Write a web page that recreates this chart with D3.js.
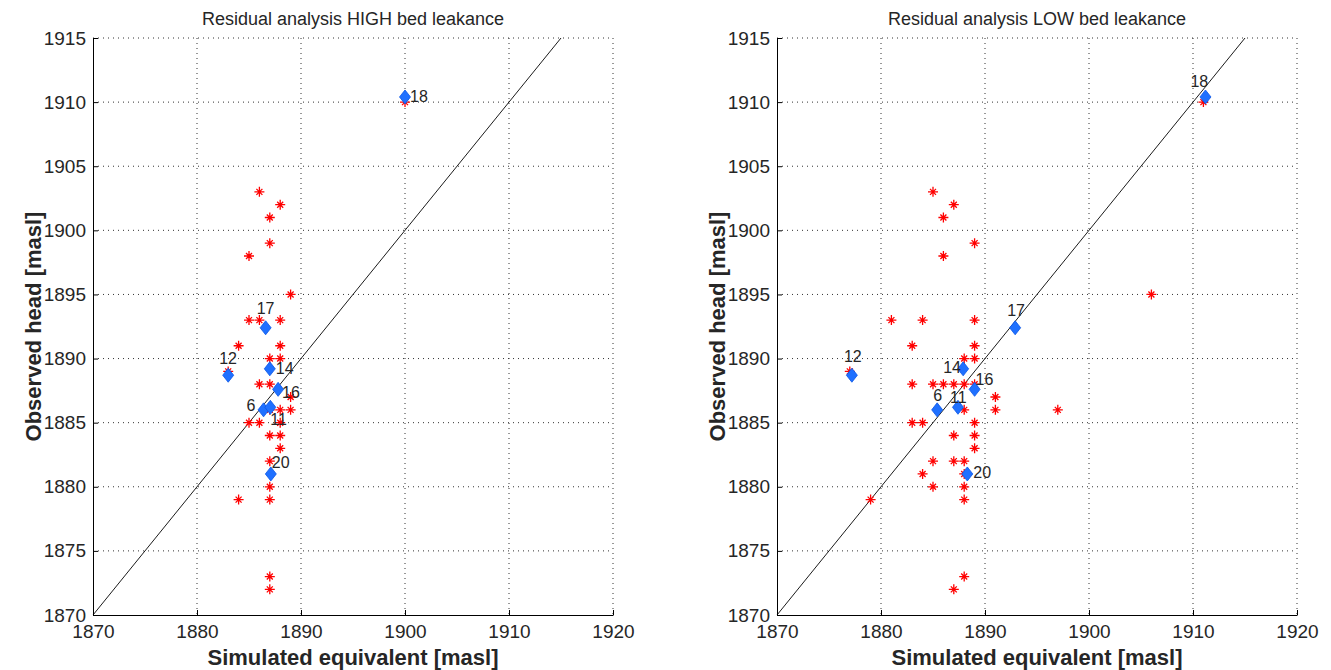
<!DOCTYPE html>
<html>
<head>
<meta charset="utf-8">
<script src="https://cdn.jsdelivr.net/npm/d3@7"></script>
<style>
  body { margin: 0; background: #fff; }
  text { font-family: "Liberation Sans", Arial, sans-serif; fill: #262626; }
</style>
</head>
<body>
<svg id="chart" width="1331" height="670"></svg>
<script>
// wells with a measured head (blue diamonds)
var wells = ["6", "11", "12", "14", "16", "17", "18", "20"];
var wellObserved = [1886.0, 1886.2, 1888.7, 1889.2, 1887.6, 1892.4, 1910.4, 1881.0];
var wellSimHigh  = [1886.4, 1887.05, 1883.0, 1887.0, 1887.8, 1886.6, 1900.0, 1887.1];
var wellSimLow   = [1885.4, 1887.4, 1877.2, 1887.9, 1889.0, 1892.9, 1911.2, 1888.3];

// label nudges in px (like the hand placed text() calls)
var labelNudgeHigh = [[-17, -4], [0, 12], [-9, -17], [6, 0], [4, 3], [-9, -19], [5, 0], [1, -11]];
var labelNudgeLow  = [[-4, -14], [-8, -10], [-8, -19], [-20, -1], [1, -10], [-8, -17], [-15, -15], [6, -1]];

// all observation points (red stars) [simulated, observed]
var obsHigh = [
  [1886,1903],[1888,1902],[1887,1901],[1887,1899],[1885,1898],
  [1889,1895],[1885,1893],[1886,1893],[1888,1893],[1884,1891],[1888,1891],
  [1887,1890],[1888,1890],[1883,1889],[1886,1888],[1887,1888],[1889,1887],
  [1889,1886],[1888,1886],[1887,1886],[1885,1885],[1886,1885],[1888,1885],
  [1887,1884],[1888,1884],[1888,1883],[1887,1882],[1887,1880],[1884,1879],
  [1887,1879],[1887,1873],[1887,1872],[1900,1910]
];
var obsLow = [
  [1885,1903],[1887,1902],[1886,1901],[1889,1899],[1886,1898],[1906,1895],
  [1881,1893],[1884,1893],[1889,1893],[1883,1891],[1889,1891],[1888,1890],
  [1889,1890],[1877,1889],[1883,1888],[1885,1888],[1886,1888],[1887,1888],
  [1888,1888],[1889,1888],[1891,1887],[1891,1886],[1888,1886],[1897,1886],
  [1883,1885],[1884,1885],[1889,1885],[1887,1884],[1889,1884],[1889,1883],
  [1885,1882],[1887,1882],[1888,1882],[1884,1881],[1888,1881],[1885,1880],
  [1888,1880],[1888,1879],[1879,1879],[1888,1873],[1887,1872],[1911,1910]
];

var xTicks = [1870, 1880, 1890, 1900, 1910, 1920];
var yTicks = [1870, 1875, 1880, 1885, 1890, 1895, 1900, 1905, 1910, 1915];

var svg = d3.select("#chart");
var plotW = 520, plotH = 577, plotTop = 38;

function drawPanel(left, title, obs, sim, nudge) {
  var g = svg.append("g").attr("transform", "translate(" + left + "," + plotTop + ")");

  var x = d3.scaleLinear().domain([1870, 1920]).range([0, plotW]);
  var y = d3.scaleLinear().domain([1870, 1915]).range([plotH, 0]);

  // dotted grid
  g.selectAll(".gx").data(xTicks.slice(1)).enter().append("line")
    .attr("x1", d => x(d)).attr("x2", d => x(d))
    .attr("y1", 0).attr("y2", plotH)
    .attr("stroke", "#333").attr("stroke-width", 1)
    .attr("stroke-dasharray", "1,4");
  g.selectAll(".gy").data(yTicks.slice(1)).enter().append("line")
    .attr("x1", 0).attr("x2", plotW)
    .attr("y1", d => y(d)).attr("y2", d => y(d))
    .attr("stroke", "#333").attr("stroke-width", 1)
    .attr("stroke-dasharray", "1,4");

  // axes, ticks pointing inward like matlab
  var ax = g.append("g").attr("transform", "translate(0," + plotH + ")")
    .call(d3.axisBottom(x).tickValues(xTicks).tickFormat(d3.format("d"))
      .tickSizeInner(-5).tickSizeOuter(0).tickPadding(10));
  var ay = g.append("g")
    .call(d3.axisLeft(y).tickValues(yTicks).tickFormat(d3.format("d"))
      .tickSizeInner(-5).tickSizeOuter(0).tickPadding(7));
  [ax, ay].forEach(function(a) {
    a.selectAll("text").style("font-size", "19px").style("font-family", "Liberation Sans, Arial, sans-serif").attr("fill", "#262626");
    a.select(".domain").attr("stroke", "#000");
    a.selectAll(".tick line").attr("stroke", "#000");
  });

  // 1:1 line
  g.append("line")
    .attr("x1", x(1870)).attr("y1", y(1870))
    .attr("x2", x(1915)).attr("y2", y(1915))
    .attr("stroke", "#000").attr("stroke-width", 0.9);

  // red stars
  var star = "M-5,0H5M0,-5V5M-3,-3L3,3M-3,3L3,-3";
  g.selectAll(".star").data(obs).enter().append("path")
    .attr("d", star)
    .attr("transform", d => "translate(" + x(d[0]) + "," + y(d[1]) + ")")
    .attr("stroke", "#ff0000").attr("stroke-width", 1.3).attr("fill", "none");

  // blue diamonds
  var pts = wells.map((w, i) => ({ name: w, sx: sim[i], oy: wellObserved[i], n: nudge[i] }));
  g.selectAll(".dia").data(pts).enter().append("path")
    .attr("d", "M0,-7L5.5,0L0,7L-5.5,0Z")
    .attr("transform", d => "translate(" + x(d.sx) + "," + y(d.oy) + ")")
    .attr("fill", "#1f70ff").attr("stroke", "#0a55e6").attr("stroke-width", 0.8);

  g.selectAll(".lab").data(pts).enter().append("text")
    .attr("x", d => x(d.sx) + d.n[0])
    .attr("y", d => y(d.oy) + d.n[1])
    .attr("dominant-baseline", "central")
    .style("font-size", "16px")
    .text(d => d.name);

  // titles and axis labels
  svg.append("text")
    .attr("x", left + plotW / 2).attr("y", 25)
    .attr("text-anchor", "middle")
    .style("font-size", "18px")
    .text(title);
  svg.append("text")
    .attr("x", left + plotW / 2).attr("y", 665)
    .attr("text-anchor", "middle")
    .style("font-size", "22px").style("font-weight", "bold")
    .attr("fill", "#000")
    .text("Simulated equivalent [masl]");
  svg.append("text")
    .attr("transform", "translate(" + (left - 60) + "," + (plotTop + plotH / 2) + ") rotate(-90)")
    .attr("text-anchor", "middle")
    .attr("dominant-baseline", "central")
    .style("font-size", "22px").style("font-weight", "bold")
    .text("Observed head [masl]");
}

drawPanel(93, "Residual analysis HIGH bed leakance", obsHigh, wellSimHigh, labelNudgeHigh);
drawPanel(777, "Residual analysis LOW bed leakance", obsLow, wellSimLow, labelNudgeLow);
</script>
</body>
</html>
